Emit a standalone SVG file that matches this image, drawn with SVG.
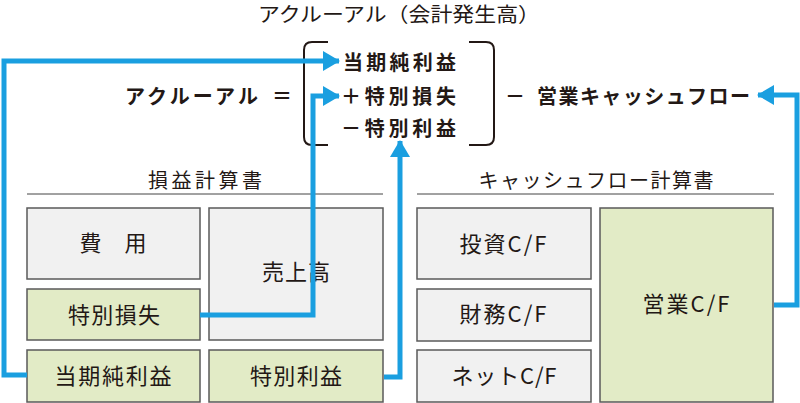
<svg xmlns="http://www.w3.org/2000/svg" width="800" height="403" viewBox="0 0 800 403">
<defs>
<style>
text{font-family:"Noto Sans CJK JP","Noto Sans",sans-serif;fill:#231815}
.t{font-size:20px}
.b{font-size:20px;font-weight:bold}
.box{stroke:#5a5a5a;stroke-width:1.5}
.g{fill:#f1f1f1}
.v{fill:#e2ebc6}
.bt{font-size:22px;text-anchor:middle}
.c{fill:none;stroke:#1a9fe0;stroke-width:5}
.rule{stroke:#444;stroke-width:1}
.br{fill:none;stroke:#231815;stroke-width:2}
</style>
<marker id="ah" markerWidth="4" markerHeight="4" refX="3.2" refY="2" orient="auto" markerUnits="strokeWidth">
<path d="M0,0 L3.4,2 L0,4 Z" fill="#1a9fe0"/>
</marker>
</defs>
<text class="t" x="399" y="22" text-anchor="middle" textLength="282" lengthAdjust="spacingAndGlyphs">アクルーアル（会計発生高）</text>
<g id="equation">
<path class="br" d="M328,42 H312 Q304,42 304,50 V137 Q304,145 312,145 H328"/>
<path class="br" d="M469,42 H486 Q494,42 494,50 V137 Q494,145 486,145 H469"/>
<text class="b" x="125" y="104" textLength="133" lengthAdjust="spacing">アクルーアル</text>
<text class="b" x="272" y="104">＝</text>
<text class="b" x="343" y="70" textLength="113" lengthAdjust="spacing">当期純利益</text>
<text class="b" x="341" y="104" textLength="115" lengthAdjust="spacing">＋特別損失</text>
<text class="b" x="341" y="136" textLength="115" lengthAdjust="spacing">－特別利益</text>
<text class="b" x="505" y="104">－</text>
<text class="b" x="537" y="104" textLength="213" lengthAdjust="spacing">営業キャッシュフロー</text>
</g>
<g id="pl-heading">
<text class="t" x="205" y="188" text-anchor="middle" textLength="114" lengthAdjust="spacing">損益計算書</text>
<line class="rule" x1="27" y1="194" x2="383" y2="194"/>
</g>
<g id="cf-heading">
<text class="t" x="596" y="188" text-anchor="middle" textLength="235" lengthAdjust="spacing">キャッシュフロー計算書</text>
<line class="rule" x1="417" y1="194" x2="774" y2="194"/>
</g>
<g id="hiyou"><rect class="box g" x="27" y="208" width="173" height="71"/><text class="bt" x="113" y="251" textLength="67" lengthAdjust="spacing">費　用</text></g>
<g id="uriage"><rect class="box g" x="209" y="208" width="174" height="132"/><text class="bt" x="296" y="280" textLength="68" lengthAdjust="spacing">売上高</text></g>
<g id="tokubetsu-sonshitsu"><rect class="box v" x="27" y="289" width="173" height="51"/><text class="bt" x="114" y="323" textLength="92" lengthAdjust="spacing">特別損失</text></g>
<g id="touki"><rect class="box v" x="27" y="350" width="173" height="52"/><text class="bt" x="113" y="384" textLength="117" lengthAdjust="spacing">当期純利益</text></g>
<g id="tokubetsu-rieki"><rect class="box v" x="209" y="350" width="174" height="52"/><text class="bt" x="296" y="384" textLength="92" lengthAdjust="spacing">特別利益</text></g>
<g id="toushi"><rect class="box g" x="417" y="208" width="174" height="71"/><text class="bt" x="503" y="252" textLength="87" lengthAdjust="spacing">投資C/F</text></g>
<g id="zaimu"><rect class="box g" x="417" y="289" width="174" height="52"/><text class="bt" x="503" y="322" textLength="87" lengthAdjust="spacing">財務C/F</text></g>
<g id="net"><rect class="box g" x="417" y="350" width="174" height="52"/><text class="bt" x="504" y="384" textLength="105" lengthAdjust="spacing">ネットC/F</text></g>
<g id="eigyou"><rect class="box v" x="600" y="208" width="173" height="194"/><text class="bt" x="686" y="312" textLength="87" lengthAdjust="spacing">営業C/F</text></g>
<g id="connectors">
<path class="c" marker-end="url(#ah)" d="M27,375 H4 V61 H339"/>
<path class="c" marker-end="url(#ah)" d="M200,315 H313 V96 H339"/>
<path class="c" marker-end="url(#ah)" d="M384,377 H400 V141"/>
<path class="c" marker-end="url(#ah)" d="M774,305 H797 V95 H758"/>
</g>
</svg>
